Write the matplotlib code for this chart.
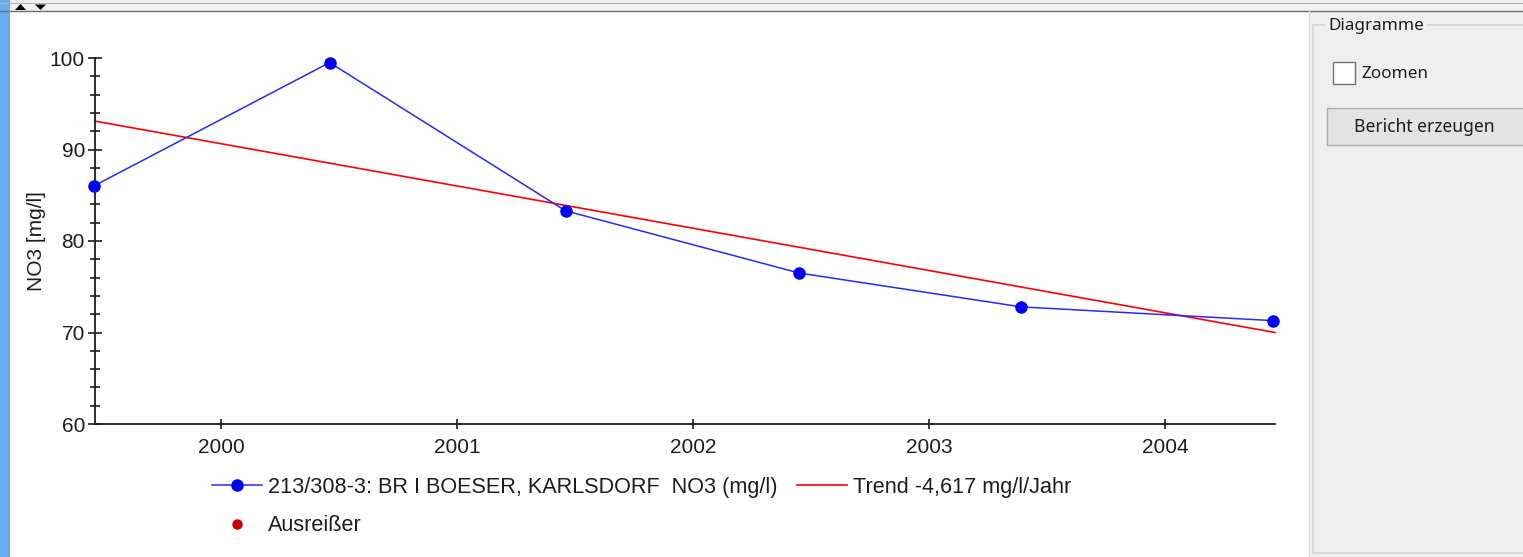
import matplotlib
matplotlib.use("Agg")
import matplotlib.pyplot as plt
from matplotlib.patches import Rectangle, Polygon

W, H = 1523, 557

# Messdaten (Dezimaljahre) und NO3-Werte in mg/l
dates = [1999.46, 2000.46, 2001.46, 2002.45, 2003.39, 2004.457]
no3 = [86.0, 99.5, 83.3, 76.5, 72.8, 71.3]

# Trendgerade, Anfangs- und Endpunkt
trend_x = [1999.466, 2004.466]
trend_y = [93.1, 70.0]

# keine Ausreisser vorhanden
outlier_dates = []
outlier_values = []

years = [2000, 2001, 2002, 2003, 2004]
yticks = [60, 70, 80, 90, 100]

series_label = "213/308-3: BR I BOESER, KARLSDORF  NO3 (mg/l)"
trend_label = "Trend -4,617 mg/l/Jahr"
outlier_label = "Ausreißer"

plt.rcParams['font.family'] = ['Liberation Sans', 'DejaVu Sans']
ui_font = ['Noto Sans', 'DejaVu Sans']

fig = plt.figure(figsize=(W / 100, H / 100), dpi=100)
fig.patch.set_facecolor('white')

# --- Fensterrahmen in Pixelkoordinaten ---
gui = fig.add_axes([0, 0, 1, 1], zorder=0)
gui.set_xlim(0, W)
gui.set_ylim(H, 0)
gui.axis('off')

gui.add_patch(Rectangle((0, 0), W, 11, color='#f0f0f0', lw=0))
gui.plot([0, W], [3, 3], color='#b4b4b4', lw=0.8)
gui.plot([0, W], [10.5, 10.5], color='#6e6e6e', lw=1.0)
gui.add_patch(Polygon([[15, 10], [26, 10], [20.5, 4]], color='black', lw=0))
gui.add_patch(Polygon([[35, 4.5], [46, 4.5], [40.5, 10]], color='black', lw=0))
gui.add_patch(Rectangle((0, 0), 9, H, color='#63aef2', lw=0))
gui.plot([9.5, 9.5], [0, H], color='#9a9a9a', lw=0.8)

# rechtes Bedienfeld
gui.add_patch(Rectangle((1309, 11), W - 1309, H - 11, color='#efefef', lw=0))
gui.plot([1309.5, 1309.5], [11, H], color='#dcdcdc', lw=1)
gb = dict(color='#d5d5d5', lw=1.2)
gui.plot([1313, 1313], [25, 553], **gb)
gui.plot([1313, W], [553, 553], **gb)
gui.plot([1313, 1324], [25, 25], **gb)
gui.plot([1428, W], [25, 25], **gb)
gui.text(1328, 26, "Diagramme", fontsize=12.3, family=ui_font,
         color='#1e1e1e', va='center', ha='left')

gui.add_patch(Rectangle((1333, 62), 22, 22, fc='white', ec='#727272', lw=1))
gui.text(1361, 74, "Zoomen", fontsize=12.3, family=ui_font,
         color='#1e1e1e', va='center', ha='left')

gui.add_patch(Rectangle((1327, 108), W - 1327 + 5, 37, fc='#e3e3e3', ec='#adadad', lw=1))
gui.text(1424, 127, "Bericht erzeugen", fontsize=12.6, family=ui_font,
         color='#1e1e1e', va='center', ha='center')

# --- Diagramm ---
ax = fig.add_axes([95 / W, 1 - 424 / H, 1180 / W, 366 / H], zorder=2)
ax.patch.set_alpha(0)

l_series, = ax.plot(dates, no3, color='#2828ff', lw=1.1, marker='o', ms=8,
                    mfc='#0000ff', mec='#0000ff', clip_on=False, zorder=3)
l_trend, = ax.plot(trend_x, trend_y, color='#ff0000', lw=1.2, clip_on=False, zorder=2)
l_out, = ax.plot(outlier_dates, outlier_values, ls='none', marker='o', ms=6.5,
                 color='#cc0000')

ax.set_xlim(1999.466, 2004.466)
ax.set_ylim(60, 100)
ax.set_xticks(years)
ax.set_xticklabels([str(y) for y in years])
ax.set_yticks(yticks)
ax.set_yticks(range(60, 101, 2), minor=True)

for s in ['top', 'right']:
    ax.spines[s].set_visible(False)
for s in ['left', 'bottom']:
    ax.spines[s].set_color('#1e1e1e')
    ax.spines[s].set_linewidth(1.3)

ax.tick_params(axis='y', which='major', direction='inout', length=9.5, width=1.2,
               color='#1e1e1e', labelsize=15, labelcolor='#1e1e1e', pad=2.5)
ax.tick_params(axis='y', which='minor', direction='inout', length=6.5, width=1.2,
               color='#1e1e1e')
ax.tick_params(axis='x', which='major', direction='inout', length=6.5, width=1.2,
               color='#1e1e1e', labelsize=15, labelcolor='#1e1e1e', pad=7)

fig.text(37 / W, 1 - 241 / H, "NO3 [mg/l]", rotation=90, fontsize=15,
         color='#1e1e1e', ha='center', va='center')

ax.legend([l_series, l_out, l_trend], [series_label, outlier_label, trend_label],
          ncol=2, loc='upper left', bbox_to_anchor=(212 / W, 1 - 477 / H),
          bbox_transform=fig.transFigure, frameon=False, borderpad=0,
          borderaxespad=0, handlelength=2.3, handletextpad=0.28,
          columnspacing=0.9, labelspacing=0.8, fontsize=15.6,
          labelcolor='#1e1e1e')

fig.savefig('out.png', dpi=100)
